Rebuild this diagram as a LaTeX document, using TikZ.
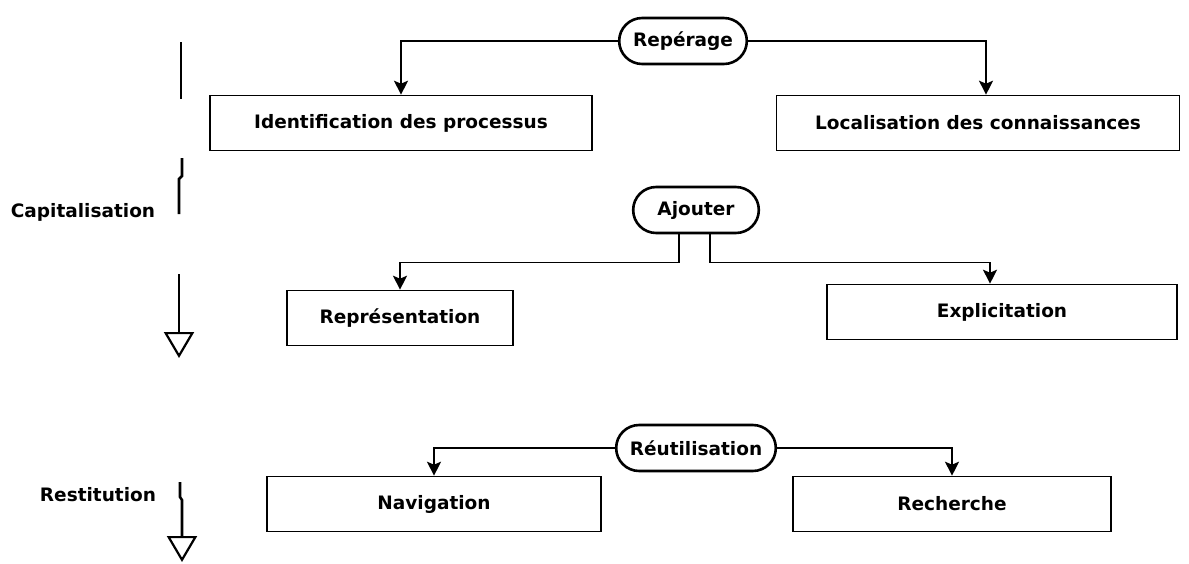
\documentclass[tikz,border=0pt]{standalone}
\usepackage{fontspec}
\setmainfont{DejaVu Sans}
\usetikzlibrary{arrows.meta, shapes.misc}

\tikzset{
    task/.style={draw, line width=1.6pt, minimum height=55pt, font=\bfseries},
    phase/.style={draw, rounded rectangle, line width=2.6pt, minimum height=46pt, font=\bfseries},
    link/.style={line width=1.4pt, -{Stealth[length=14pt, width=14pt, inset=3pt]}},
    stage/.style={line width=2.6pt},
    stagehead/.style={line width=2.2pt, -{Triangle[open, length=26pt, width=30pt]}}
}

\begin{document}
\begin{tikzpicture}[x=1pt, y=-1pt]
    \fontsize{18.5}{22}\selectfont

    % the frame
    \path[use as bounding box] (0, 0) rectangle (1189, 563);

    % the phases
    \node[phase, minimum width=140pt] (rep) at (683, 41) {Repérage};
    \node[phase, minimum width=138pt] (ajout) at (696, 210) {Ajouter};
    \node[phase, minimum width=172pt] (reutil) at (696, 448) {Réutilisation};

    % the tasks
    \node[task, minimum width=382pt] (ident) at (401, 123) {Identification des processus};
    \node[task, minimum width=403pt] (local) at (978, 123) {Localisation des connaissances};
    \node[task, minimum width=226pt] (repr) at (400, 318) {Représentation};
    \node[task, minimum width=350pt] (explic) at (1002, 312) {Explicitation};
    \node[task, minimum width=334pt] (navig) at (434, 504) {Navigation};
    \node[task, minimum width=318pt] (rech) at (952, 504) {Recherche};

    % the links
    \draw[link] (rep.west) -| (ident.north);
    \draw[link] (rep.east) -| ([xshift=8pt]local.north);
    \draw[link] ([xshift=-17pt]ajout.south) -- ++(0, 28) -| (repr.north);
    \draw[link] ([xshift=14pt]ajout.south) -- ++(0, 28) -| ([xshift=-12pt]explic.north);
    \draw[link] (reutil.west) -| (navig.north);
    \draw[link] (reutil.east) -| (rech.north);

    % the stages on the left
    \node[font=\bfseries] (capit) at (83, 212) {Capitalisation};
    \node[font=\bfseries] (restit) at (98, 495) {Restitution};

    \draw[stage] (181, 42) -- (181, 99);
    \draw[stage] (182, 158) -- (182, 176) -- (179, 179) -- (179, 214);
    \draw[stagehead] (179, 274) -- (179, 358);
    \draw[stage] (180, 482) -- (180, 497) -- (182, 500) -- (182, 537);
    \draw[stagehead] (182, 520) -- (182, 562);
\end{tikzpicture}
\end{document}
